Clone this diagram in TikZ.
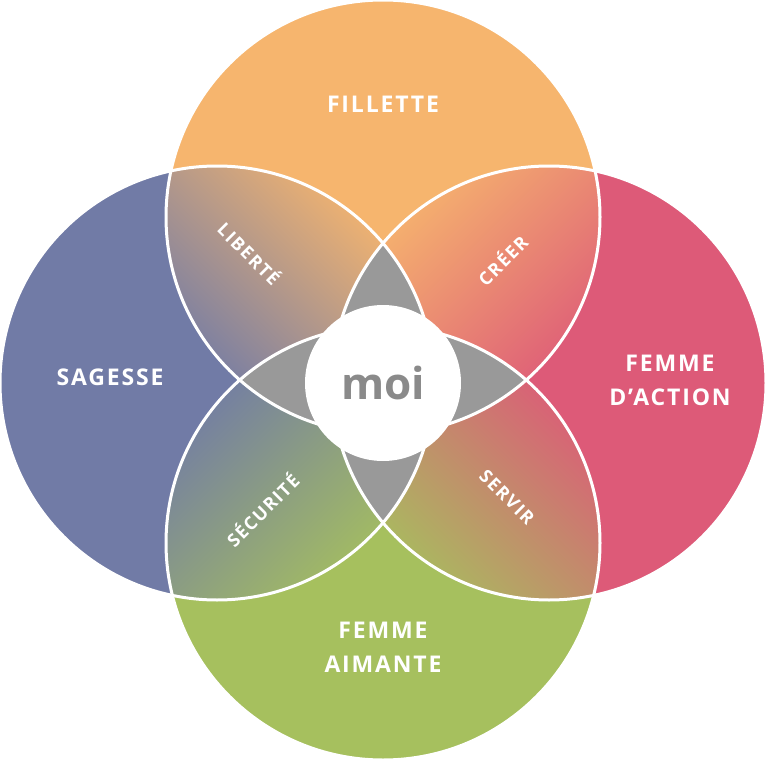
\documentclass[tikz,border=0pt]{standalone}
\usepackage{fontspec}
\setmainfont{Open Sans}
\newfontfamily\spaced[LetterSpace=8]{Open Sans}
\definecolor{corange}{HTML}{F6B56E}
\definecolor{cblue}{HTML}{717BA6}
\definecolor{cpink}{HTML}{DD5A78}
\definecolor{cgreen}{HTML}{A6C05E}
\definecolor{cgray}{HTML}{999999}
\definecolor{cmoi}{HTML}{8A8A8A}
\begin{document}
\begin{tikzpicture}[x=1pt,y=-1pt,
  lbl/.style={text=white,font=\spaced\fontsize{23}{34}\selectfont\bfseries,align=center},
  lens/.style={text=white,font=\spaced\fontsize{18}{20}\selectfont\bfseries}]
\useasboundingbox (0,0) rectangle (766,760);
\def\R{217}
\coordinate (T) at (383,217);
\coordinate (L) at (217,383);
\coordinate (Rr) at (549,383);
\coordinate (B) at (383,543);
\fill[corange] (T) circle (\R);
\fill[cblue] (L) circle (\R);
\fill[cpink] (Rr) circle (\R);
\fill[cgreen] (B) circle (\R);
% lenses
\begin{scope}\clip (T) circle (\R); \clip (L) circle (\R);
 \shade[top color=corange,bottom color=cblue,shading angle=-45] (150,160) rectangle (400,400);\end{scope}
\begin{scope}\clip (T) circle (\R); \clip (Rr) circle (\R);
 \shade[top color=corange,bottom color=cpink,shading angle=45] (366,160) rectangle (616,400);\end{scope}
\begin{scope}\clip (B) circle (\R); \clip (L) circle (\R);
 \shade[top color=cblue,bottom color=cgreen,shading angle=45] (150,366) rectangle (400,616);\end{scope}
\begin{scope}\clip (B) circle (\R); \clip (Rr) circle (\R);
 \shade[top color=cpink,bottom color=cgreen,shading angle=-45] (366,366) rectangle (616,616);\end{scope}
\foreach \a/\b/\c in {T/L/Rr,T/L/B,T/Rr/B,L/Rr/B}{
 \begin{scope}\clip (\a) circle (\R); \clip (\b) circle (\R); \clip (\c) circle (\R);
 \fill[cgray] (0,0) rectangle (766,760);\end{scope}}
\foreach \c in {T,L,Rr,B} \draw[white,line width=3] (\c) circle (\R);
\node[circle,fill=white,minimum size=156,inner sep=0,text=cmoi,font=\fontsize{44}{50}\selectfont\bfseries] (moi) at (383,383) {moi};
\node[lbl] (fil) at (383,104) {FILLETTE};
\node[lbl] (sag) at (110,377) {SAGESSE};
\node[lbl] (act) at (670,380) {FEMME\\D’ACTION};
\node[lbl] (aim) at (383,647) {FEMME\\AIMANTE};
\node[lens,rotate=-45] (lib) at (250,253) {LIBERTÉ};
\node[lens,rotate=45] (cre) at (502,260) {CRÉER};
\node[lens,rotate=45] (sec) at (262,510) {SÉCURITÉ};
\node[lens,rotate=-45] (ser) at (507,497) {SERVIR};
\end{tikzpicture}
\end{document}
